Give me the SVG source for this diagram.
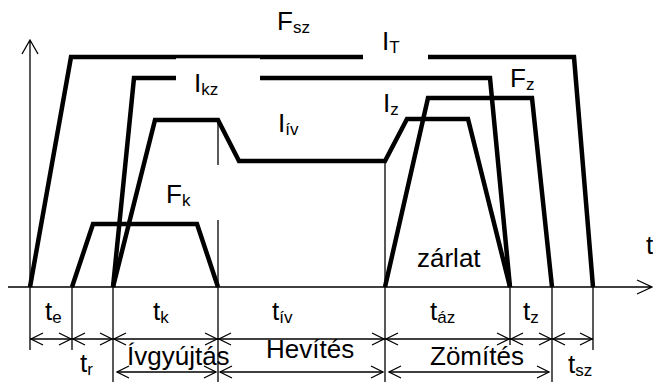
<svg xmlns="http://www.w3.org/2000/svg" width="653" height="382" viewBox="0 0 653 382">
<style>
.thick{fill:none;stroke:#000;stroke-width:4.5;stroke-linejoin:miter;stroke-miterlimit:10}
.thin{fill:none;stroke:#000;stroke-width:1.3}
text{font-family:"Liberation Sans",Arial,sans-serif;font-size:26px;fill:#000}
.sub{font-size:17px}
</style>
<rect width="653" height="382" fill="#fff"/>
<g id="axes">
<path class="thin" d="M30,40 L30,350 M22,54 L30,40 L38,54"/>
<path class="thin" d="M8,287 L652,287 M637,280 L652,287 L637,294"/>
<text x="646" y="254">t</text>
</g>
<g id="curve-Fsz">
<path class="thick" d="M30,287 L71,57 L363,57"/>
<path class="thick" d="M428,57 L574,57 L593,287"/>
</g>
<g id="curve-Ikz">
<path class="thick" d="M113,287 L134,78 L176,78"/>
<path class="thick" d="M260,78 L490,78 L510,287"/>
</g>
<g id="curve-Iiv">
<path class="thick" d="M113,287 L155,120 L218,120 L239,161 L385,161 L407,119 L468,119 L510,287"/>
</g>
<g id="curve-Fk">
<path class="thick" d="M72,287 L93,224 L197,224 L218,287"/>
</g>
<g id="curve-Fz">
<path class="thick" d="M385,287 L428,98 L532,98 L552,287"/>
</g>
<rect x="176" y="58.3" width="84" height="30" fill="#fff"/>
<g id="ticks">
<path class="thin" d="M72,287 V350 M113,287 V382 M218,120 V165 M218,220 V382 M385,161 V382 M510,287 V345 M552,287 V382 M593,287 V350"/>
</g>
<g id="connectors">
<path class="thin" d="M30,339 H593"/>
<path class="thin" d="M43,333 L31,339 L43,345 M59,333 L71,339 L59,345
M85,333 L73,339 L85,345 M100,333 L112,339 L100,345
M126,333 L114,339 L126,345 M205,333 L217,339 L205,345
M231,333 L219,339 L231,345 M372,333 L384,339 L372,345
M398,333 L386,339 L398,345 M497,333 L509,339 L497,345
M523,333 L511,339 L523,345 M539,333 L551,339 L539,345
M565,333 L553,339 L565,345 M580,333 L592,339 L580,345"/>
<path class="thin" d="M117,372 H216 M220,372 H383 M389,372 H549"/>
<path class="thin" d="M129,366 L117,372 L129,378 M204,366 L216,372 L204,378
M232,366 L220,372 L232,378 M371,366 L383,372 L371,378
M401,366 L389,372 L401,378 M537,366 L549,372 L537,378"/>
</g>
<g id="labels">
<text x="277" y="30">F<tspan class="sub" dy="3">sz</tspan></text>
<text x="382" y="50">I<tspan class="sub" dy="3">T</tspan></text>
<text x="194" y="92">I<tspan class="sub" dy="3">kz</tspan></text>
<text x="278" y="132">I<tspan class="sub" dy="3">ív</tspan></text>
<text x="166" y="203">F<tspan class="sub" dy="3">k</tspan></text>
<text x="383" y="112">I<tspan class="sub" dy="3">z</tspan></text>
<text x="510" y="87">F<tspan class="sub" dy="3">z</tspan></text>
<text x="417" y="267">zárlat</text>
<text x="45" y="320">t<tspan class="sub" dy="3">e</tspan></text>
<text x="80" y="372">t<tspan class="sub" dy="3">r</tspan></text>
<text x="153" y="320">t<tspan class="sub" dy="3">k</tspan></text>
<text x="272" y="320">t<tspan class="sub" dy="3">ív</tspan></text>
<text x="430" y="320">t<tspan class="sub" dy="3">áz</tspan></text>
<text x="523" y="320">t<tspan class="sub" dy="3">z</tspan></text>
<text x="568" y="373">t<tspan class="sub" dy="3">sz</tspan></text>
<text x="127" y="365">Ívgyújtás</text>
<text x="266" y="358">Hevítés</text>
<text x="430" y="365">Zömítés</text>
</g>
</svg>
